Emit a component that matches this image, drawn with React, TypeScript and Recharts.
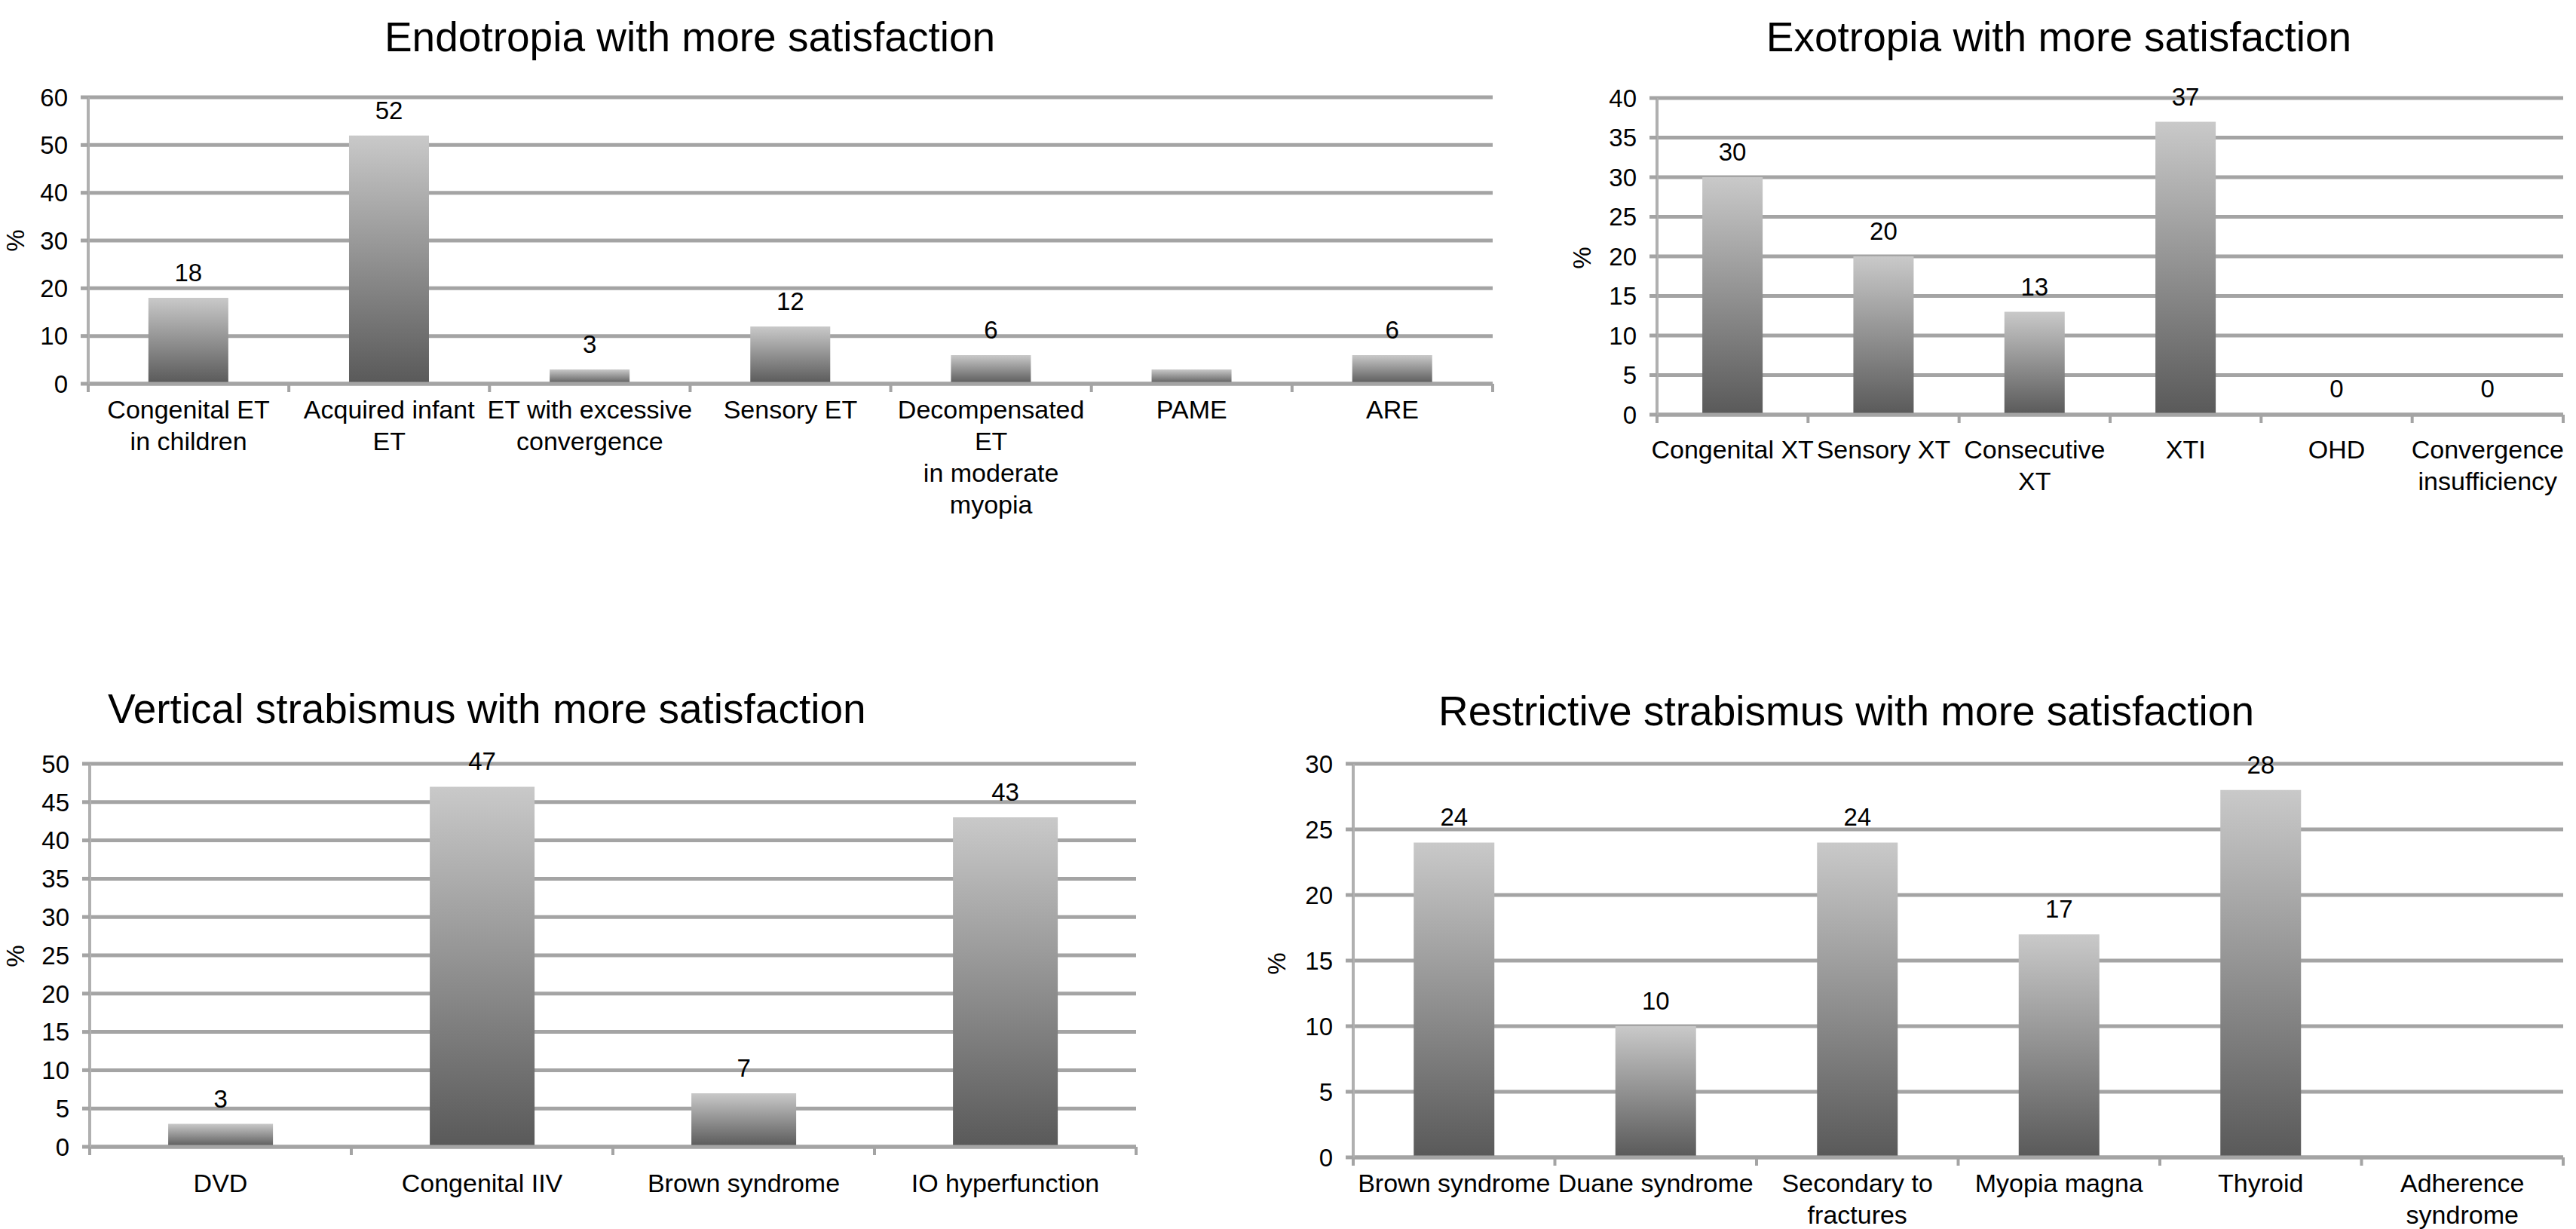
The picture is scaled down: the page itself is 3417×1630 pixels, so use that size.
import React from 'react';
import { BarChart, Bar, XAxis, YAxis, CartesianGrid, LabelList } from 'recharts';

// Endotropia
const endoCategories = [
  'Congenital ET\nin children',
  'Acquired infant\nET',
  'ET with excessive\nconvergence',
  'Sensory ET',
  'Decompensated\nET\nin moderate\nmyopia',
  'PAME',
  'ARE',
];
const endoValues = [18, 52, 3, 12, 6, 3, 6];
const endoLabels = ['18', '52', '3', '12', '6', '', '6'];
const endoTicks = [0, 10, 20, 30, 40, 50, 60];

// Exotropia
const exoCategories = ['Congenital XT', 'Sensory XT', 'Consecutive\nXT', 'XTI', 'OHD', 'Convergence\ninsufficiency'];
const exoValues = [30, 20, 13, 37, 0, 0];
const exoLabels = ['30', '20', '13', '37', '0', '0'];
const exoTicks = [0, 5, 10, 15, 20, 25, 30, 35, 40];

// Vertical strabismus
const vertCategories = ['DVD', 'Congenital IIV', 'Brown syndrome', 'IO hyperfunction'];
const vertValues = [3, 47, 7, 43];
const vertLabels = ['3', '47', '7', '43'];
const vertTicks = [0, 5, 10, 15, 20, 25, 30, 35, 40, 45, 50];

// Restrictive strabismus
const restCategories = ['Brown syndrome', 'Duane syndrome', 'Secondary to\nfractures', 'Myopia magna', 'Thyroid', 'Adherence\nsyndrome'];
const restValues = [24, 10, 24, 17, 28, 0];
const restLabels = ['24', '10', '24', '17', '28', ''];
const restTicks = [0, 5, 10, 15, 20, 25, 30];

const titles = [
  'Endotropia with more satisfaction',
  'Exotropia with more satisfaction',
  'Vertical strabismus with more satisfaction',
  'Restrictive strabismus with more satisfaction',
];
const yAxisTitle = '%';

const GRID = '#a4a4a4';
const AXIS = '#b0b0b0';
const FONT = 33;
const X_FONT = 34;
const LINE_H = 42;
const Y_AXIS_W = 100;
const X_AXIS_H = 20;

type Box = { x: number; y: number; w: number; h: number };
type Plot = { l: number; t: number; r: number; b: number };

function Panel({ id, box, plot, categories, values, labels, ticks, xLabelY }: {
  id: string; box: Box; plot: Plot; categories: string[]; values: number[];
  labels: string[]; ticks: number[]; xLabelY: number;
}) {
  const data = categories.map((name, i) => ({ name, value: values[i], label: labels[i] }));
  const band = (plot.r - plot.l) / categories.length;
  const axisY = plot.b - box.y;
  const textY = xLabelY - box.y + X_FONT * 0.36;
  const margin = {
    top: plot.t - box.y,
    right: box.x + box.w - plot.r,
    bottom: box.y + box.h - plot.b - X_AXIS_H,
    left: plot.l - box.x - Y_AXIS_W,
  };

  const renderTick = (props: any) => {
    const { x, payload } = props;
    const index = props.index ?? payload.index;
    const lines = String(payload.value).split('\n');
    const left = x - band / 2;
    return (
      <g>
        <line x1={left} x2={left} y1={axisY} y2={axisY + 11} stroke={GRID} strokeWidth={4} />
        {index === categories.length - 1 && (
          <line x1={x + band / 2} x2={x + band / 2} y1={axisY} y2={axisY + 11} stroke={GRID} strokeWidth={4} />
        )}
        <text x={x} y={textY} textAnchor="middle" fontSize={X_FONT} fill="#000">
          {lines.map((l, i) => (
            <tspan key={i} x={x} dy={i === 0 ? 0 : LINE_H}>{l}</tspan>
          ))}
        </text>
      </g>
    );
  };

  return (
    <div style={{ position: 'absolute', left: box.x, top: box.y }}>
      <BarChart width={box.w} height={box.h} data={data} margin={margin} barCategoryGap="30%">
        <defs>
          <linearGradient id={`grad-${id}`} x1="0" y1="0" x2="0" y2="1">
            <stop offset="0%" stopColor="#c9c9c9" />
            <stop offset="100%" stopColor="#595959" />
          </linearGradient>
        </defs>
        <CartesianGrid vertical={false} stroke={GRID} strokeWidth={5} />
        <Bar dataKey="value" fill={`url(#grad-${id})`} minPointSize={1} isAnimationActive={false}>
          <LabelList dataKey="label" position="top" offset={22} fill="#000" fontSize={FONT} />
        </Bar>
        <XAxis
          dataKey="name"
          interval={0}
          height={X_AXIS_H}
          tickLine={false}
          axisLine={{ stroke: GRID, strokeWidth: 5 }}
          tick={renderTick}
        />
        <YAxis
          type="number"
          domain={[0, ticks[ticks.length - 1]]}
          ticks={ticks}
          interval={0}
          width={Y_AXIS_W}
          tickSize={10}
          tickMargin={17}
          axisLine={{ stroke: AXIS, strokeWidth: 4 }}
          tickLine={{ stroke: GRID, strokeWidth: 5 }}
          tick={{ fill: '#000', fontSize: FONT }}
        />
      </BarChart>
    </div>
  );
}

export default function App() {
  return (
    <div
      style={{
        position: 'absolute', left: 0, top: 0, width: 3417, height: 1630,
        background: '#fff', overflow: 'hidden',
        fontFamily: '"Liberation Sans", Arial, Helvetica, sans-serif',
      }}
    >
      <Panel id="endo" box={{ x: 0, y: 0, w: 2000, h: 800 }} plot={{ l: 117, t: 129, r: 1980, b: 509 }}
        categories={endoCategories} values={endoValues} labels={endoLabels} ticks={endoTicks} xLabelY={543} />
      <Panel id="exo" box={{ x: 2000, y: 0, w: 1417, h: 800 }} plot={{ l: 2198, t: 130, r: 3400, b: 550 }}
        categories={exoCategories} values={exoValues} labels={exoLabels} ticks={exoTicks} xLabelY={596} />
      <Panel id="vert" box={{ x: 0, y: 830, w: 1600, h: 800 }} plot={{ l: 119, t: 1013, r: 1507, b: 1521 }}
        categories={vertCategories} values={vertValues} labels={vertLabels} ticks={vertTicks} xLabelY={1569} />
      <Panel id="rest" box={{ x: 1600, y: 830, w: 1817, h: 800 }} plot={{ l: 1795, t: 1013, r: 3400, b: 1535 }}
        categories={restCategories} values={restValues} labels={restLabels} ticks={restTicks} xLabelY={1569} />

      <svg width={3417} height={1630} style={{ position: 'absolute', left: 0, top: 0, pointerEvents: 'none' }}>
        <text x={915} y={68} textAnchor="middle" fontSize={55} fill="#000">{titles[0]}</text>
        <text x={2731} y={68} textAnchor="middle" fontSize={55} fill="#000">{titles[1]}</text>
        <text x={143} y={959} textAnchor="start" fontSize={55} fill="#000">{titles[2]}</text>
        <text x={2449} y={962} textAnchor="middle" fontSize={55} fill="#000">{titles[3]}</text>
        {[[20, 319], [2098, 342], [20, 1268], [1693, 1278]].map(([x, y], i) => (
          <text key={i} x={x} y={y} textAnchor="middle" dominantBaseline="central" fontSize={FONT}
            fill="#000" transform={`rotate(-90 ${x} ${y})`}>{yAxisTitle}</text>
        ))}
      </svg>
    </div>
  );
}
